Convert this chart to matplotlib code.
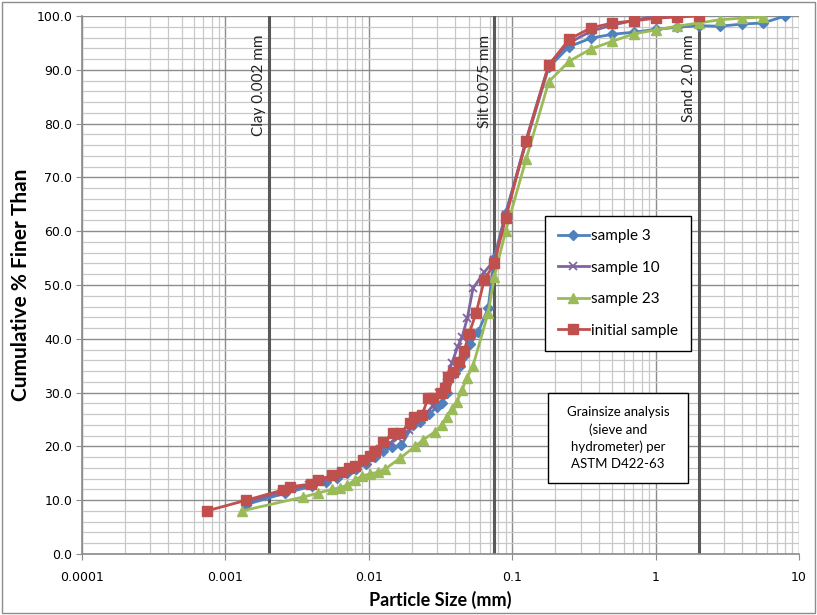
import matplotlib
matplotlib.use("Agg")
import matplotlib.pyplot as plt
from matplotlib.patches import Rectangle
from matplotlib.ticker import FixedLocator, FixedFormatter, LogLocator, MultipleLocator

# sample 3 (blue diamonds)
s3_size = [0.0014, 0.0026, 0.0040, 0.0050, 0.0060, 0.0070, 0.0082, 0.0095, 0.011, 0.0125,
           0.0145, 0.0169, 0.0203, 0.0228, 0.0265, 0.0297, 0.0324, 0.0351, 0.040, 0.043,
           0.0456, 0.051, 0.058, 0.068, 0.075, 0.09, 0.125, 0.18, 0.25, 0.355,
           0.5, 0.71, 1.0, 1.4, 2.0, 2.8, 4.0, 5.6, 8.0]
s3_pct = [9.2, 11.3, 12.6, 13.3, 14.2, 15.0, 15.8, 16.8, 18.0, 19.2,
          19.8, 20.2, 24.0, 24.5, 26.0, 27.3, 28.0, 29.9, 33.6, 35.0,
          36.6, 39.0, 41.3, 45.7, 55.0, 63.4, 76.5, 90.5, 94.3, 95.9,
          96.6, 97.0, 97.5, 97.9, 98.2, 98.1, 98.5, 98.7, 100.0]

# sample 10 (purple crosses)
s10_size = [0.0014, 0.0025, 0.0038, 0.0048, 0.0058, 0.0068, 0.0080, 0.0092, 0.0105, 0.012,
            0.014, 0.016, 0.019, 0.022, 0.025, 0.028, 0.031, 0.035, 0.038, 0.0416,
            0.0447, 0.0487, 0.0533, 0.064, 0.075, 0.09, 0.125, 0.18, 0.25, 0.355,
            0.5, 0.71, 1.0, 1.4]
s10_pct = [9.6, 11.6, 12.8, 13.6, 14.5, 15.2, 16.2, 17.0, 18.2, 19.5,
           20.6, 21.6, 23.0, 24.6, 26.0, 27.6, 30.0, 33.0, 35.5, 38.5,
           40.3, 43.9, 49.4, 52.4, 54.6, 63.0, 77.0, 91.0, 95.0, 97.2,
           98.3, 99.2, 100.0, 100.0]

# sample 23 (green triangles)
s23_size = [0.0013, 0.0035, 0.0044, 0.0055, 0.0063, 0.0071, 0.0080, 0.0090, 0.0102, 0.0116,
            0.0130, 0.0165, 0.0210, 0.0239, 0.0289, 0.0324, 0.0351, 0.0380, 0.0412, 0.0447,
            0.0484, 0.0533, 0.068, 0.075, 0.09, 0.125, 0.18, 0.25, 0.355, 0.5,
            0.71, 1.0, 1.4, 2.0, 2.8, 4.0, 5.6]
s23_pct = [8.0, 10.6, 11.3, 12.0, 12.3, 12.8, 13.8, 14.5, 14.9, 15.2,
           15.8, 17.8, 20.0, 21.2, 22.7, 24.0, 25.5, 27.0, 28.3, 30.5,
           32.8, 35.0, 44.8, 51.5, 60.0, 73.4, 87.8, 91.6, 93.9, 95.3,
           96.7, 97.4, 98.1, 98.7, 99.3, 99.6, 99.8]

# initial sample (red squares)
init_size = [0.00074, 0.0014, 0.00252, 0.00282, 0.00395, 0.00442, 0.00554, 0.0065, 0.00727, 0.0080,
             0.00911, 0.0102, 0.01105, 0.0126, 0.01476, 0.0165, 0.01938, 0.02067, 0.0235, 0.0259,
             0.0281, 0.0319, 0.0340, 0.0357, 0.0387, 0.0426, 0.0461, 0.0500, 0.0560, 0.064,
             0.075, 0.09, 0.125, 0.18, 0.25, 0.355, 0.5, 0.71, 1.0, 1.4, 2.0]
init_pct = [8.0, 10.0, 11.9, 12.5, 13.0, 13.8, 14.6, 15.2, 16.0, 16.4,
            17.5, 18.2, 19.2, 20.8, 22.5, 22.5, 24.3, 25.5, 25.8, 29.0,
            29.0, 29.9, 30.9, 32.9, 33.8, 35.7, 37.7, 40.9, 44.8, 51.0,
            54.0, 62.4, 76.8, 90.9, 95.7, 97.8, 98.7, 99.1, 99.6, 99.8, 100.0]

# boundaries
bound_size = [0.002, 0.075, 2.0]
bound_label = ["Clay 0.002 mm", "Silt 0.075 mm", "Sand 2.0 mm"]

x_ticks = [0.0001, 0.001, 0.01, 0.1, 1, 10]
x_ticklabels = ["0.0001", "0.001", "0.01", "0.1", "1", "10"]

body_font = ["Lato", "DejaVu Sans"]

fig = plt.figure(figsize=(8.17, 6.15), dpi=100)
ax = fig.add_axes([82 / 817, 1 - 554 / 615, 717 / 817, 538 / 615])

ax.set_xscale("log")
ax.set_xlim(0.0001, 10)
ax.set_ylim(0, 100)

# grid
ax.xaxis.set_major_locator(FixedLocator(x_ticks))
ax.xaxis.set_major_formatter(FixedFormatter(x_ticklabels))
ax.xaxis.set_minor_locator(LogLocator(base=10, subs=range(2, 10), numticks=20))
ax.xaxis.set_minor_formatter(FixedFormatter([]))
ax.yaxis.set_major_locator(MultipleLocator(10))
ax.yaxis.set_minor_locator(MultipleLocator(2))
ax.yaxis.set_major_formatter(plt.FuncFormatter(lambda v, p: "%.1f" % v))
ax.grid(which="major", color="#8c8c8c", lw=1.0)
ax.grid(which="minor", color="#c8c8c8", lw=0.9)
ax.set_axisbelow(True)
ax.tick_params(which="minor", length=0)
ax.tick_params(which="major", length=4, color="#8c8c8c", labelsize=9)
ax.tick_params(axis="x", pad=8)
ax.tick_params(axis="y", pad=3)

for s in ["top", "right"]:
    ax.spines[s].set_visible(False)
for s in ["left", "bottom"]:
    ax.spines[s].set_color("#8c8c8c")
    ax.spines[s].set_linewidth(1.2)

# boundary lines
for xv, lab in zip(bound_size, bound_label):
    ax.axvline(xv, color="#595959", lw=2.2, zorder=2)
    ax.annotate(lab, xy=(xv, 96.5), xytext=(-2, 0), textcoords="offset points",
                rotation=90, ha="right", va="top", fontsize=11, family=body_font,
                color="#222222")

ax.plot(s3_size, s3_pct, color="#4F81BD", lw=2, marker="D", ms=5, label="sample 3", zorder=3)
ax.plot(s10_size, s10_pct, color="#8064A2", lw=2, marker="x", ms=6, mew=1.3, label="sample 10", zorder=3)
ax.plot(s23_size, s23_pct, color="#9BBB59", lw=2, marker="^", ms=7, label="sample 23", zorder=3)
ax.plot(init_size, init_pct, color="#C0504D", lw=2, marker="s", ms=7, label="initial sample", zorder=4)

leg = ax.legend(loc="upper left", bbox_to_anchor=(0.646, 0.628), fancybox=False,
                edgecolor="black", framealpha=1, prop={"family": body_font, "size": 11},
                handlelength=2.0, handletextpad=0.15, labelspacing=1.15, borderpad=0.85,
                borderaxespad=0)
leg.get_frame().set_linewidth(1.0)
leg.set_zorder(10)

# annotation box
ax.add_patch(Rectangle(((548 - 82) / 717, (554 - 483) / 538), 140 / 717, 90 / 538,
                       transform=ax.transAxes, facecolor="white", edgecolor="black",
                       lw=1.0, zorder=10))
ax.text((618 - 82) / 717, (554 - 438) / 538,
        "Grainsize analysis\n(sieve and\nhydrometer) per\nASTM D422-63",
        transform=ax.transAxes, ha="center", va="center", fontsize=9.5,
        family=body_font, linespacing=1.45, zorder=11)

ax.set_xlabel("Particle Size (mm)", fontsize=13, fontweight="bold", family=body_font, labelpad=5)
ax.set_ylabel("Cumulative % Finer Than", fontsize=15, fontweight="bold", family=body_font, labelpad=4)

# chart area border
fig.patches.append(Rectangle((0.002, 0.003), 0.996, 0.994, transform=fig.transFigure,
                             fill=False, edgecolor="#8c8c8c", lw=1.0))

fig.savefig("out.png", dpi=100)
